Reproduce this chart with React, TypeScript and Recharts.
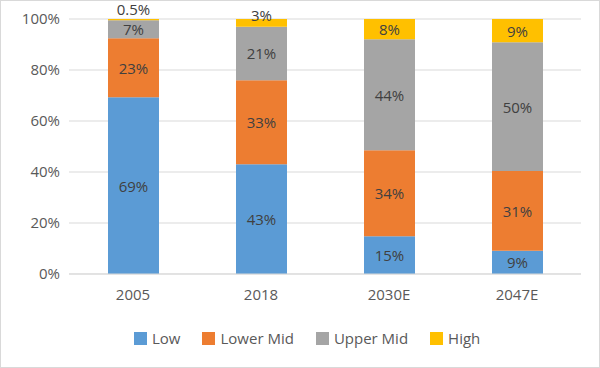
import React from "react";
import { BarChart, Bar, XAxis, YAxis, CartesianGrid, Legend, LabelList } from "recharts";

const categories = ["2005", "2018", "2030E", "2047E"];
const low = [69, 43, 15, 9];
const lowerMid = [23, 33, 34, 31];
const upperMid = [7, 21, 44, 50];
const high = [0.5, 3, 8, 9];
const yTicks = [0, 0.2, 0.4, 0.6, 0.8, 1];

const series = [
  { key: "low", name: "Low", color: "#5b9bd5" },
  { key: "lowerMid", name: "Lower Mid", color: "#ed7d31" },
  { key: "upperMid", name: "Upper Mid", color: "#a5a5a5" },
  { key: "high", name: "High", color: "#ffc000" },
];

const data = categories.map((c, i) => ({
  cat: c,
  low: low[i],
  lowerMid: lowerMid[i],
  upperMid: upperMid[i],
  high: high[i],
}));

const FONT = "'Open Sans', 'Liberation Sans', Arial, sans-serif";

const renderLabel = (props: any) => {
  const { x, y, width, height, value } = props;
  const h = Number(height);
  const cx = Number(x) + Number(width) / 2;
  const cy = h < 15 ? Math.max(Number(y) + h - 12, 9) : Number(y) + h / 2;
  return (
    <text
      x={cx}
      y={cy}
      textAnchor="middle"
      dominantBaseline="central"
      fill="#404040"
      fontSize={15}
      fontFamily={FONT}
    >
      {`${value}%`}
    </text>
  );
};

const renderLegend = () => (
  <div
    style={{
      display: "flex",
      justifyContent: "flex-start",
      alignItems: "center",
      height: 24,
      paddingLeft: 134,
      fontFamily: FONT,
      fontSize: 15,
      color: "#595959",
    }}
  >
    {series.map((s) => (
      <div key={s.key} style={{ display: "flex", alignItems: "center", marginRight: 22 }}>
        <div style={{ width: 13, height: 13, background: s.color, marginRight: 5 }} />
        <span>{s.name}</span>
      </div>
    ))}
  </div>
);

export default function App() {
  return (
    <div style={{ position: "absolute", left: 0, top: 0, width: 600, height: 368, background: "#fff" }}>
      <BarChart
        width={600}
        height={368}
        data={data}
        stackOffset="expand"
        margin={{ top: 19, right: 19, left: 0, bottom: 40 }}
        barSize={51}
      >
        <CartesianGrid vertical={false} stroke="#d9d9d9" />
        <XAxis
          dataKey="cat"
          axisLine={{ stroke: "#d9d9d9" }}
          tickLine={false}
          tickSize={0}
          tickMargin={15}
          height={30}
          tick={{ fill: "#595959", fontSize: 15, fontFamily: FONT }}
        />
        <YAxis
          width={69}
          domain={[0, 1]}
          ticks={yTicks}
          axisLine={false}
          tickLine={false}
          tickSize={0}
          tickMargin={9}
          tickFormatter={(v: number) => `${Math.round(v * 100)}%`}
          tick={{ fill: "#595959", fontSize: 15, fontFamily: FONT }}
        />
        <Legend
          verticalAlign="bottom"
          content={renderLegend}
          wrapperStyle={{ top: 326, left: 0, width: 600, height: 24 }}
        />
        {series.map((s) => (
          <Bar key={s.key} dataKey={s.key} name={s.name} stackId="a" fill={s.color} isAnimationActive={false}>
            <LabelList dataKey={s.key} content={renderLabel} />
          </Bar>
        ))}
      </BarChart>
      <div
        style={{
          position: "absolute",
          left: 0,
          top: 0,
          width: 600,
          height: 368,
          boxSizing: "border-box",
          border: "1px solid #d9d9d9",
          pointerEvents: "none",
        }}
      />
    </div>
  );
}
